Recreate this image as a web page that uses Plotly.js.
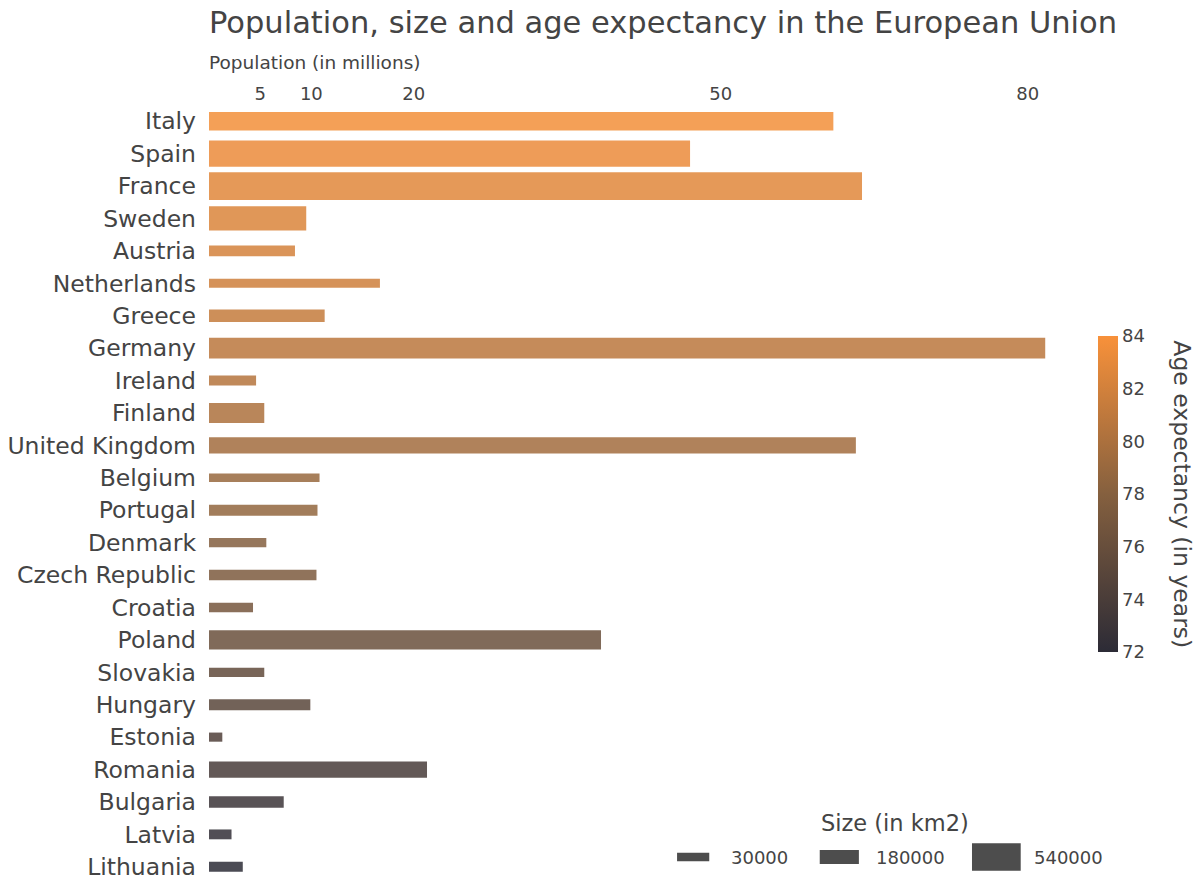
<!DOCTYPE html>
<html>
<head>
<meta charset="utf-8">
<script src="https://cdn.plot.ly/plotly-3.0.1.min.js"></script>
<style>html,body{margin:0;padding:0;background:#fff;}#chart{width:1200px;height:895px;}</style>
</head>
<body>
<div id="chart"></div>
<script>
// ---- data ----
const countries = ["Italy","Spain","France","Sweden","Austria","Netherlands","Greece","Germany","Ireland","Finland","United Kingdom","Belgium","Portugal","Denmark","Czech Republic","Croatia","Poland","Slovakia","Hungary","Estonia","Romania","Bulgaria","Latvia","Lithuania"];
const population = [61.0, 47.0, 63.8, 9.5, 8.4, 16.7, 11.3, 81.7, 4.6, 5.4, 63.2, 10.8, 10.6, 5.6, 10.5, 4.3, 38.3, 5.4, 9.9, 1.3, 21.3, 7.3, 2.2, 3.3];
const areaKm2 = [301340, 505990, 543965, 450295, 83879, 41543, 131957, 357386, 70273, 338424, 242495, 30528, 92212, 43094, 78867, 56594, 312679, 49035, 93028, 45228, 238397, 110879, 64589, 65300];
const ageExpectancy = [83.7, 83.3, 82.8, 82.5, 82.1, 81.8, 81.3, 80.8, 80.5, 80.1, 79.5, 79.0, 78.7, 77.9, 77.4, 76.9, 76.2, 75.5, 75.0, 74.4, 73.9, 73.1, 72.5, 72.0];
const sizeLegendValues = [30000, 180000, 540000];
const sizeLegendLabels = ["30000", "180000", "540000"];
const populationTicks = [5, 10, 20, 50, 80];

// ---- style helpers ----
const TXT = "#444444";
const FONT = "DejaVu Sans, Verdana, sans-serif";
const PX_PER_CAT = 32.43;
function thicknessPx(area) { return 7.46 + 0.0372 * area / 1000; }
const barWidths = areaKm2.map(a => thicknessPx(a) / PX_PER_CAT);

const trace = {
  type: "bar",
  orientation: "h",
  x: population,
  y: countries,
  width: barWidths,
  marker: {
    color: ageExpectancy,
    cmin: 72, cmax: 84,
    colorscale: [[0, "#2c2b36"], [0.5, "#85603f"], [1, "#f8913a"]],
    opacity: 0.85,
    line: {width: 0},
    showscale: true,
    colorbar: {
      x: 1.0218, xanchor: "left", xref: "paper",
      y: 0.5, yanchor: "middle",
      len: 316, lenmode: "pixels",
      thickness: 20, outlinewidth: 0, xpad: 0, ypad: 0,
      ticks: "", dtick: 2, tick0: 72,
      tickfont: {size: 18, color: TXT, family: FONT}
    }
  },
  hoverinfo: "x+y",
  showlegend: false
};

// size legend (shapes + annotations)
const swX = [[0.538, 0.575], [0.702, 0.747], [0.877, 0.933]];
const labX = [0.598, 0.764, 0.946];
const legY = 0.0334;
const shapes = sizeLegendValues.map((v, i) => {
  const h = thicknessPx(v);
  return {type: "rect", xref: "paper", yref: "paper", x0: swX[i][0], x1: swX[i][1],
    ysizemode: "pixel", yanchor: legY, y0: -h / 2, y1: h / 2,
    fillcolor: "#4d4d4d", line: {width: 0}};
});
const annotations = sizeLegendLabels.map((t, i) => ({
  xref: "paper", yref: "paper", x: labX[i], y: legY, xanchor: "left", yanchor: "middle",
  text: t, showarrow: false, font: {size: 18, color: TXT, family: FONT}
}));
annotations.push({xref: "paper", yref: "paper", x: 0.789, y: 0.077, xanchor: "center", yanchor: "middle",
  text: "Size (in km2)", showarrow: false, font: {size: 22.5, color: TXT, family: FONT}});
annotations.push({xref: "paper", yref: "paper", x: 0, y: 1.055, xanchor: "left", yanchor: "middle",
  borderpad: 0, xshift: -1,
  text: "Population (in millions)", showarrow: false, font: {size: 18.5, color: TXT, family: FONT}});
annotations.push({xref: "paper", yref: "paper", x: 1.118, y: 0.5, xanchor: "center", yanchor: "middle",
  textangle: 90, text: "Age expectancy (in years)", showarrow: false,
  font: {size: 23.5, color: TXT, family: FONT}});

const layout = {
  width: 1200, height: 895,
  margin: {l: 209, r: 121, t: 105, b: 12},
  paper_bgcolor: "#ffffff", plot_bgcolor: "#ffffff",
  font: {family: FONT, color: TXT},
  title: {text: "Population, size and age expectancy in the European Union",
    x: 0, xref: "paper", xanchor: "left", y: 0.975, yref: "container", yanchor: "middle",
    font: {size: 30.5, color: TXT, family: FONT}},
  xaxis: {side: "top", range: [0, 85], tickvals: populationTicks, ticktext: populationTicks.map(String),
    showgrid: false, zeroline: false, showline: false, ticks: "",
    tickfont: {size: 18, color: TXT, family: FONT}},
  yaxis: {type: "category", range: [23.5, -0.5], showgrid: false, zeroline: false, showline: false,
    ticks: "", ticklabelstandoff: 12, tickfont: {size: 23.5, color: TXT, family: FONT}},
  shapes: shapes,
  annotations: annotations,
  showlegend: false
};

Plotly.newPlot("chart", [trace], layout, {displayModeBar: false, staticPlot: true});
</script>
</body>
</html>
